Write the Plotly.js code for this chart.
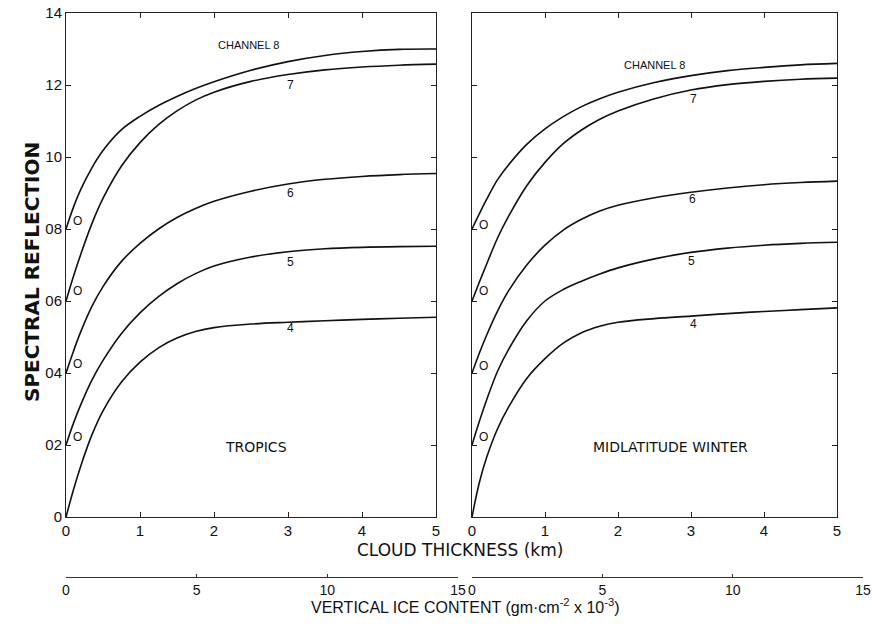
<!DOCTYPE html>
<html>
<head>
<meta charset="utf-8">
<script src="https://cdn.plot.ly/plotly-3.0.1.min.js"></script>
<style>html,body{margin:0;padding:0;background:#fff;}#chart{width:872px;height:626px;}</style>
</head>
<body>
<div id="chart"></div>
<script>
// Cloud thickness (km) sample points
const km = [0, 0.1, 0.2, 0.35, 0.5, 0.75, 1, 1.25, 1.5, 1.75, 2, 2.5, 3, 3.5, 4, 4.5, 5];

// TROPICS spectral reflection
const tropCh8 = [0.80, 0.86, 0.91, 0.97, 1.018, 1.076, 1.113, 1.143, 1.168, 1.19, 1.209, 1.241, 1.265, 1.282, 1.293, 1.299, 1.30];
const tropCh7 = [0.60, 0.668, 0.73, 0.815, 0.885, 0.975, 1.04, 1.09, 1.128, 1.158, 1.18, 1.21, 1.229, 1.242, 1.25, 1.255, 1.258];
const tropCh6 = [0.40, 0.46, 0.515, 0.585, 0.64, 0.71, 0.76, 0.80, 0.832, 0.857, 0.877, 0.905, 0.925, 0.938, 0.946, 0.951, 0.954];
const tropCh5 = [0.20, 0.26, 0.312, 0.38, 0.435, 0.51, 0.567, 0.612, 0.648, 0.676, 0.697, 0.722, 0.737, 0.745, 0.749, 0.751, 0.752];
const tropCh4 = [0.00, 0.075, 0.142, 0.228, 0.295, 0.375, 0.43, 0.47, 0.497, 0.515, 0.526, 0.536, 0.541, 0.545, 0.549, 0.552, 0.555];

// MIDLATITUDE WINTER spectral reflection
const midCh8 = [0.80, 0.842, 0.882, 0.937, 0.978, 1.035, 1.078, 1.112, 1.14, 1.162, 1.18, 1.207, 1.226, 1.24, 1.249, 1.256, 1.26];
const midCh7 = [0.60, 0.652, 0.702, 0.775, 0.835, 0.92, 0.985, 1.037, 1.075, 1.105, 1.128, 1.162, 1.186, 1.201, 1.21, 1.216, 1.219];
const midCh6 = [0.40, 0.455, 0.505, 0.572, 0.628, 0.70, 0.755, 0.797, 0.827, 0.85, 0.866, 0.887, 0.902, 0.914, 0.923, 0.929, 0.933];
const midCh5 = [0.20, 0.265, 0.325, 0.405, 0.465, 0.545, 0.60, 0.632, 0.655, 0.675, 0.692, 0.717, 0.735, 0.747, 0.755, 0.76, 0.763];
const midCh4 = [0.00, 0.095, 0.165, 0.245, 0.305, 0.385, 0.44, 0.483, 0.512, 0.53, 0.541, 0.551, 0.558, 0.565, 0.571, 0.576, 0.581];

// Tick labels
const yTickVals = [0, 0.2, 0.4, 0.6, 0.8, 1.0, 1.2, 1.4];
const yTickText = ["0", "02", "04", "06", "08", "10", "12", "14"];
const kmTicks = [0, 1, 2, 3, 4, 5];
const iceTicks = [0, 5, 10, 15];

const FONT = "Liberation Sans, Arial, sans-serif";
const WIDE = "DejaVu Sans, Verdana, sans-serif";
const INK = "#111";

function curve(y, xa, ya) {
  return {x: km, y: y, xaxis: xa, yaxis: ya, mode: "lines", type: "scatter",
          line: {color: INK, width: 1.6, shape: "spline", smoothing: 1},
          hoverinfo: "skip", showlegend: false};
}

const traces = [
  // carriers for the vertical ice content scales (drawn first, no marks)
  {x: [], y: [], xaxis: "x3", yaxis: "y", type: "scatter", mode: "lines", showlegend: false, hoverinfo: "skip"},
  {x: [], y: [], xaxis: "x4", yaxis: "y2", type: "scatter", mode: "lines", showlegend: false, hoverinfo: "skip"},
  curve(tropCh8, "x", "y"), curve(tropCh7, "x", "y"), curve(tropCh6, "x", "y"),
  curve(tropCh5, "x", "y"), curve(tropCh4, "x", "y"),
  curve(midCh8, "x2", "y2"), curve(midCh7, "x2", "y2"), curve(midCh6, "x2", "y2"),
  curve(midCh5, "x2", "y2"), curve(midCh4, "x2", "y2")
];

const W = 872, H = 626;
const yDom = [(H - 517) / H, (H - 13) / H];

const frameAxis = {
  showline: true, linecolor: "#222", linewidth: 1, mirror: "ticks",
  ticks: "inside", ticklen: 5, tickcolor: "#222", showgrid: false, zeroline: false,
  tickfont: {family: FONT, size: 15, color: INK}
};

const iceAxis = {
  range: [0, 15], anchor: "free", position: (H - 577) / H,
  showline: true, linecolor: "#333", linewidth: 1, ticks: "inside", ticklen: 3, tickcolor: "#333",
  side: "bottom", showgrid: false, zeroline: false, tickvals: iceTicks, ticktext: iceTicks.map(String),
  tickfont: {family: FONT, size: 14, color: INK}
};

const layout = {
  width: W, height: H,
  margin: {l: 0, r: 0, t: 0, b: 0},
  paper_bgcolor: "#fff", plot_bgcolor: "rgba(0,0,0,0)",
  font: {family: FONT, color: INK},
  showlegend: false,
  xaxis: Object.assign({}, frameAxis, {domain: [66 / W, 436 / W], range: [0, 5], anchor: "y",
    tickvals: kmTicks, ticktext: kmTicks.map(String)}),
  yaxis: Object.assign({}, frameAxis, {domain: yDom, range: [0, 1.4], anchor: "x",
    tickvals: yTickVals, ticktext: yTickText}),
  xaxis2: Object.assign({}, frameAxis, {domain: [472 / W, 837 / W], range: [0, 5], anchor: "y2",
    tickvals: kmTicks, ticktext: kmTicks.map(String)}),
  yaxis2: Object.assign({}, frameAxis, {domain: yDom, range: [0, 1.4], anchor: "x2",
    tickvals: yTickVals, showticklabels: false}),
  xaxis3: Object.assign({}, iceAxis, {domain: [66 / W, 458 / W]}),
  xaxis4: Object.assign({}, iceAxis, {domain: [472 / W, 863 / W]}),
  annotations: []
};

function ann(text, x, y, xref, yref, size, extra) {
  layout.annotations.push(Object.assign({text: text, x: x, y: y, xref: xref, yref: yref,
    showarrow: false, font: {family: FONT, size: size, color: INK}}, extra || {}));
}

// Curve labels - tropics
ann("CHANNEL 8", 2.47, 1.311, "x", "y", 11);
ann("7", 3.03, 1.20, "x", "y", 12);
ann("6", 3.03, 0.90, "x", "y", 12);
ann("5", 3.03, 0.708, "x", "y", 12);
ann("4", 3.03, 0.525, "x", "y", 12);
ann("TROPICS", 2.57, 0.194, "x", "y", 14, {font: {family: WIDE, size: 14, color: INK}});
[0.822, 0.628, 0.425, 0.222].forEach(v => ann("O", 0.15, v, "x", "y", 12));

// Curve labels - midlatitude winter
ann("CHANNEL 8", 2.5, 1.256, "x2", "y2", 11);
ann("7", 3.03, 1.161, "x2", "y2", 12);
ann("6", 3.02, 0.883, "x2", "y2", 12);
ann("5", 3.0, 0.711, "x2", "y2", 12);
ann("4", 3.03, 0.536, "x2", "y2", 12);
ann("MIDLATITUDE WINTER", 2.72, 0.194, "x2", "y2", 14, {font: {family: WIDE, size: 14, color: INK}});
[0.81, 0.628, 0.42, 0.222].forEach(v => ann("O", 0.16, v, "x2", "y2", 12));

// Axis titles
ann("CLOUD THICKNESS (km)", 460 / W, (H - 562) / H, "paper", "paper", 17, {font: {family: WIDE, size: 17, color: INK}});
ann("VERTICAL ICE CONTENT (gm·cm<sup>-2</sup> x 10<sup>-3</sup>)", 466 / W, (H - 618) / H, "paper", "paper", 16);
ann("<b>SPECTRAL REFLECTION</b>", 18 / W, (H - 272) / H, "paper", "paper", 20, {textangle: -90, font: {family: WIDE, size: 20, color: INK}});

Plotly.newPlot("chart", traces, layout, {displayModeBar: false, staticPlot: true});
</script>
</body>
</html>
